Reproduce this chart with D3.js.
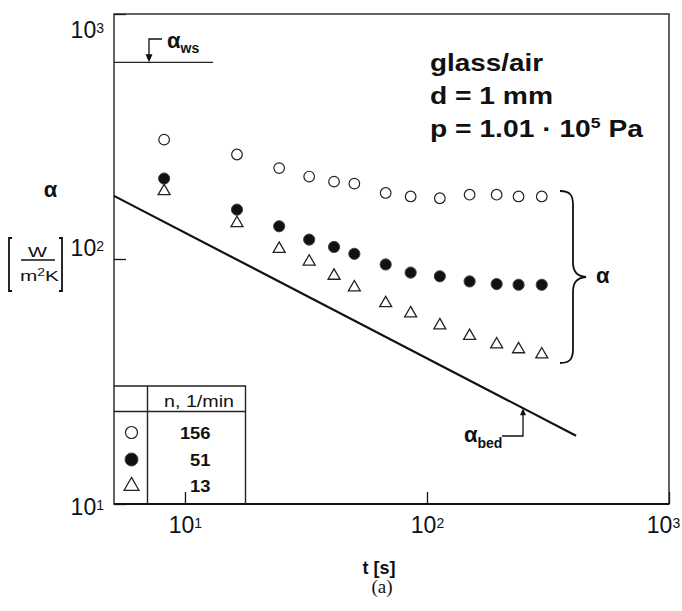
<!DOCTYPE html>
<html>
<head>
<meta charset="utf-8">
<script src="https://cdn.jsdelivr.net/npm/d3@7"></script>
<style>
  body { margin: 0; background: #fff; }
  text { font-family: "Liberation Sans", Arial, sans-serif; fill: #111; }
</style>
</head>
<body>
<svg id="chart"></svg>
<script>
// values
const times = [8.2, 16.4, 24.5, 32.6, 41.3, 50.1, 67.5, 85.6, 113, 150, 194, 239, 298];
const alpha156 = [307, 267, 235, 217, 207, 203, 186, 180, 177, 183, 183, 180, 180];
const alpha51 = [213, 159, 136, 120, 112, 105, 95, 88, 85, 81, 79, 78.5, 78.5];
const alpha13 = [189, 140, 110, 97.5, 85.4, 76.6, 66, 60, 53.6, 48.5, 44.8, 42.8, 40.8];
const bedT = [5.09, 413];
const bedAlpha = [181, 19];
const alphaWs = 635;
const xTicks = [10, 100, 1000];
const yTicks = [10, 100, 1000];
const seriesNames = ["156", "51", "13"];

let config = {
  'svg': { width: 682, height: 611 },
  'plot': { left: 114, right: 669, top: 14, bottom: 504 }
};

let svg = d3.select("svg#chart")
  .attr('width', config.svg.width)
  .attr('height', config.svg.height);

let scale = {};
scale.x = d3.scaleLog().domain([5.09, 1000]).range([config.plot.left, config.plot.right]);
scale.y = d3.scaleLog().domain([10, 1000]).range([config.plot.bottom, config.plot.top]);

// axes (ticks inside, decades only)
let axis = {};
axis.x = d3.axisBottom(scale.x).tickValues(xTicks).tickSize(-12).tickPadding(13).tickSizeOuter(0);
axis.y = d3.axisLeft(scale.y).tickValues(yTicks).tickSize(-12).tickPadding(10).tickSizeOuter(0);

let gx = svg.append("g")
  .attr("transform", translate(0, config.plot.bottom))
  .call(axis.x);
let gy = svg.append("g")
  .attr("transform", translate(config.plot.left, 0))
  .call(axis.y);

[gx, gy].forEach(g => {
  g.select(".domain").remove();
  g.attr("font-family", null).attr("font-size", 23);
  g.selectAll(".tick line").attr("stroke", "#111").attr("stroke-width", 1.3);
  g.selectAll(".tick text").each(function(d) {
    let t = d3.select(this).text(null).attr("fill", "#111");
    t.append("tspan").text("10");
    t.append("tspan").attr("dy", -5).attr("font-size", 14).text(Math.round(Math.log10(d)));
  });
});
let yLabelShift = { 1000: 16, 100: -11, 10: 3 };
gy.selectAll(".tick text").attr("y", d => yLabelShift[d]);
gx.selectAll(".tick text").attr("x", d => d === 1000 ? -6 : 0);

// frame
svg.append("rect")
  .attr("x", config.plot.left).attr("y", config.plot.top)
  .attr("width", config.plot.right - config.plot.left)
  .attr("height", config.plot.bottom - config.plot.top)
  .attr("fill", "none").attr("stroke", "#222").attr("stroke-width", 1.4);
svg.append("line")
  .attr("x1", config.plot.left).attr("x2", config.plot.right)
  .attr("y1", config.plot.bottom).attr("y2", config.plot.bottom)
  .attr("stroke", "#111").attr("stroke-width", 2.2);

// alpha_bed line
let line = d3.line().x(d => scale.x(d[0])).y(d => scale.y(d[1]));
svg.append("path")
  .datum(bedT.map((t, i) => [t, bedAlpha[i]]))
  .attr("d", line)
  .attr("fill", "none").attr("stroke", "#111").attr("stroke-width", 2.2);

// markers
let tri = d3.symbol(d3.symbolTriangle, 62);
let plot = svg.append("g");

plot.selectAll("circle.open")
  .data(times.map((t, i) => [t, alpha156[i]]))
  .enter().append("circle")
  .attr("class", "open")
  .attr("cx", d => scale.x(d[0])).attr("cy", d => scale.y(d[1]))
  .attr("r", 5.3)
  .attr("fill", "#fff").attr("stroke", "#222").attr("stroke-width", 1.2);

plot.selectAll("circle.filled")
  .data(times.map((t, i) => [t, alpha51[i]]))
  .enter().append("circle")
  .attr("class", "filled")
  .attr("cx", d => scale.x(d[0])).attr("cy", d => scale.y(d[1]))
  .attr("r", 5.6)
  .attr("fill", "#111").attr("stroke", "#444").attr("stroke-width", 1);

plot.selectAll("path.tri")
  .data(times.map((t, i) => [t, alpha13[i]]))
  .enter().append("path")
  .attr("class", "tri")
  .attr("d", tri)
  .attr("transform", d => translate(scale.x(d[0]), scale.y(d[1])))
  .attr("fill", "#fff").attr("stroke", "#222").attr("stroke-width", 1.3);

// alpha_ws marker line and arrow
let yWs = scale.y(alphaWs);
svg.append("line")
  .attr("x1", config.plot.left).attr("x2", 213)
  .attr("y1", yWs).attr("y2", yWs)
  .attr("stroke", "#222").attr("stroke-width", 1.3);
svg.append("path")
  .attr("d", `M162,39 H149 V${yWs - 7}`)
  .attr("fill", "none").attr("stroke", "#111").attr("stroke-width", 1.3);
svg.append("path")
  .attr("d", `M145.5,${yWs - 8} L152.5,${yWs - 8} L149,${yWs} Z`)
  .attr("fill", "#111");
let ws = svg.append("text").attr("x", 167).attr("y", 48).attr("font-weight", "bold");
ws.append("tspan").attr("font-size", 22).text("α");
ws.append("tspan").attr("font-size", 14).attr("dy", 5).text("ws");

// alpha_bed arrow
let xBed = 523;
let yBed = scale.y(Math.pow(10, d3.scaleLinear()
  .domain(bedT.map(Math.log10)).range(bedAlpha.map(Math.log10))(Math.log10(scale.x.invert(xBed)))));
svg.append("path")
  .attr("d", `M502,436 H${xBed} V${yBed + 6}`)
  .attr("fill", "none").attr("stroke", "#111").attr("stroke-width", 1.3);
svg.append("path")
  .attr("d", `M${xBed - 3},${yBed + 7} L${xBed + 3},${yBed + 7} L${xBed},${yBed} Z`)
  .attr("fill", "#111");
let bed = svg.append("text").attr("x", 464).attr("y", 442).attr("font-weight", "bold");
bed.append("tspan").attr("font-size", 22).text("α");
bed.append("tspan").attr("font-size", 14).attr("dy", 6).text("bed");

// brace and alpha
svg.append("path")
  .attr("d", "M560,191 C570,191 573,195 573,205 V262 C573,272 577,276 586,277 C577,278 573,282 573,292 V349 C573,359 570,363 560,363")
  .attr("fill", "none").attr("stroke", "#111").attr("stroke-width", 1.8);
svg.append("text").attr("x", 596).attr("y", 283)
  .attr("font-size", 22).attr("font-weight", "bold").text("α");

// annotation
let notes = [
  { text: "glass/air", y: 71, len: 113 },
  { text: "d = 1 mm", y: 103.5, len: 123 }
];
notes.forEach(n => {
  svg.append("text").attr("x", 430).attr("y", n.y)
    .attr("font-size", 24).attr("font-weight", "bold")
    .attr("textLength", n.len).attr("lengthAdjust", "spacingAndGlyphs")
    .text(n.text);
});
let p = svg.append("text").attr("x", 430).attr("y", 136.5)
  .attr("font-size", 24).attr("font-weight", "bold")
  .attr("textLength", 213).attr("lengthAdjust", "spacingAndGlyphs");
p.append("tspan").text("p = 1.01 · 10");
p.append("tspan").attr("font-size", 15).attr("dy", -9).text("5");
p.append("tspan").attr("dy", 9).text(" Pa");

// y axis title
svg.append("text").attr("x", 50.5).attr("y", 197)
  .attr("font-size", 22).attr("font-weight", "bold").attr("text-anchor", "middle").text("α");
svg.append("path")
  .attr("d", "M12,238 H9 V291 H12 M59,238 H62 V291 H59")
  .attr("fill", "none").attr("stroke", "#111").attr("stroke-width", 1.8);
svg.append("line").attr("x1", 21).attr("x2", 55).attr("y1", 260).attr("y2", 260)
  .attr("stroke", "#111").attr("stroke-width", 1.4);
svg.append("text").attr("x", 28).attr("y", 257).attr("font-size", 15)
  .attr("textLength", 19).attr("lengthAdjust", "spacingAndGlyphs").text("W");
let unit = svg.append("text").attr("x", 20).attr("y", 281).attr("font-size", 15)
  .attr("textLength", 39).attr("lengthAdjust", "spacingAndGlyphs");
unit.append("tspan").text("m");
unit.append("tspan").attr("font-size", 10).attr("dy", -5).text("2");
unit.append("tspan").attr("dy", 5).text("K");

// x axis title and caption
svg.append("text").attr("x", 379).attr("y", 574)
  .attr("font-size", 18).attr("font-weight", "bold").attr("text-anchor", "middle").text("t [s]");
svg.append("text").attr("x", 382).attr("y", 593)
  .attr("font-size", 19).attr("text-anchor", "middle")
  .style("font-family", "'Liberation Serif', 'Times New Roman', serif").text("(a)");

// legend table
let legend = svg.append("g");
legend.append("path")
  .attr("d", "M114,386 H245.5 V504 M114,411.5 H245.5 M147.5,386 V504")
  .attr("fill", "none").attr("stroke", "#222").attr("stroke-width", 1.4);
legend.append("text").attr("x", 199).attr("y", 406.5)
  .attr("font-size", 16).attr("text-anchor", "middle")
  .attr("textLength", 70).attr("lengthAdjust", "spacingAndGlyphs").text("n, 1/min");

let rowY = [432.5, 459.5, 486];
legend.append("circle").attr("cx", 131.5).attr("cy", rowY[0]).attr("r", 6)
  .attr("fill", "#fff").attr("stroke", "#222").attr("stroke-width", 1.2);
legend.append("circle").attr("cx", 131.5).attr("cy", rowY[1]).attr("r", 6.5)
  .attr("fill", "#111").attr("stroke", "#444").attr("stroke-width", 1);
legend.append("path").attr("d", d3.symbol(d3.symbolTriangle, 95))
  .attr("transform", translate(131.5, rowY[2]))
  .attr("fill", "#fff").attr("stroke", "#222").attr("stroke-width", 1.3);
legend.selectAll("text.n")
  .data(seriesNames)
  .enter().append("text")
  .attr("class", "n")
  .attr("x", 210.5).attr("y", (d, i) => rowY[i] + 6)
  .attr("font-size", 16).attr("font-weight", "bold").attr("text-anchor", "end")
  .attr("textLength", d => d.length * 10.2).attr("lengthAdjust", "spacingAndGlyphs")
  .text(d => d);

function translate(x, y) {
  return 'translate(' + x + ',' + y + ')';
}
</script>
</body>
</html>
